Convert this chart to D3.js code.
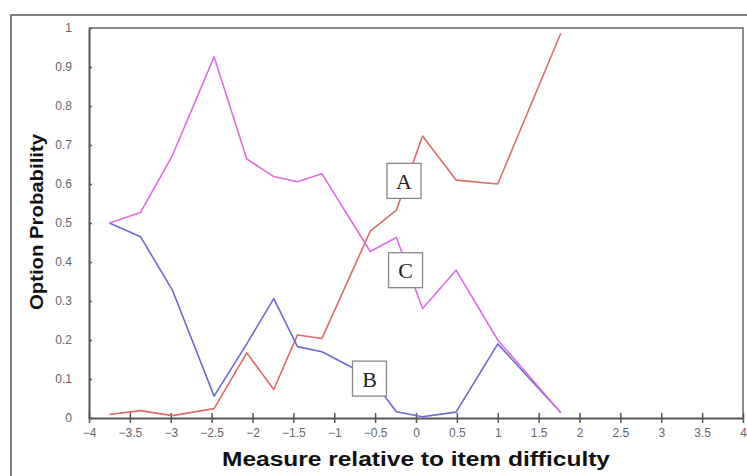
<!DOCTYPE html>
<html><head><meta charset="utf-8">
<script src="https://cdn.jsdelivr.net/npm/d3@7"></script>
<style>body{margin:0;background:#fff}svg{display:block}</style>
</head><body>
<svg id="chart" width="747" height="476"></svg>
<script>
const xValues = [-3.75, -3.37, -2.98, -2.47, -2.07, -1.74, -1.45, -1.15, -0.56, -0.24, 0.08, 0.49, 1.0, 1.77];
const seriesA = [0.009, 0.019, 0.006, 0.024, 0.167, 0.073, 0.213, 0.204, 0.479, 0.533, 0.723, 0.61, 0.6, 0.986];
const seriesB = [0.5, 0.465, 0.328, 0.056, 0.19, 0.306, 0.183, 0.17, 0.105, 0.016, 0.003, 0.015, 0.19, 0.014];
const seriesC = [0.5, 0.527, 0.673, 0.926, 0.664, 0.619, 0.606, 0.626, 0.427, 0.463, 0.281, 0.379, 0.2, 0.014];
const xTicks = [-4, -3.5, -3, -2.5, -2, -1.5, -1, -0.5, 0, 0.5, 1, 1.5, 2, 2.5, 3, 3.5, 4];
const yTicks = [0, 0.1, 0.2, 0.3, 0.4, 0.5, 0.6, 0.7, 0.8, 0.9, 1];
const labels = [
  {name: "A", x: -0.147, y: 0.608},
  {name: "C", x: -0.128, y: 0.379},
  {name: "B", x: -0.569, y: 0.101}
];
const series = [
  {name: "A", values: seriesA, color: "#e06a6a"},
  {name: "B", values: seriesB, color: "#6a6ad2"},
  {name: "C", values: seriesC, color: "#dc6ee0"}
];

const svg = d3.select("#chart");
const x = d3.scaleLinear().domain([-4, 4]).range([89, 743]);
const y = d3.scaleLinear().domain([0, 1]).range([418, 28]);

// outer frame
svg.append("path").attr("d", "M11,476 L11,15 L747,15")
  .attr("fill", "none").attr("stroke", "#555").attr("stroke-width", 1.5);

// plot frame top/right
svg.append("path").attr("d", `M${x(-4)},${y(1)} L${x(4)},${y(1)} L${x(4)},${y(0)}`)
  .attr("fill", "none").attr("stroke", "#8a8a8a").attr("stroke-width", 2);

// axes
const xAxis = d3.axisBottom(x).tickValues(xTicks).tickFormat(d => d3.format("")(d))
  .tickSizeInner(5).tickSizeOuter(0).tickPadding(5);
const gx = svg.append("g").attr("transform", `translate(0,${y(0)})`).call(xAxis);
const yAxis = d3.axisLeft(y).tickValues(yTicks).tickFormat(d => d3.format("")(d))
  .tickSizeInner(4).tickSizeOuter(0).tickPadding(13);
const gy = svg.append("g").attr("transform", `translate(${x(-4)},0)`).call(yAxis);

[gx, gy].forEach(g => {
  g.select(".domain").attr("stroke", "#555").attr("stroke-width", 2);
  g.selectAll(".tick line").attr("stroke", "#555").attr("stroke-width", 1.5);
  g.selectAll(".tick text").attr("fill", "#666").attr("font-family", "Liberation Sans, Arial, sans-serif")
    .attr("font-size", 12);
});
gx.selectAll(".tick line").attr("y1", -5);
gy.selectAll(".tick line").attr("x2", 3);

// lines
const line = d3.line().x((d, i) => x(xValues[i])).y(d => y(d));
series.forEach(s => {
  svg.append("path").datum(s.values).attr("d", line)
    .attr("fill", "none").attr("stroke", s.color).attr("stroke-width", 1.6)
    .attr("stroke-linejoin", "round");
});

// labels in boxes
labels.forEach(l => {
  const cx = x(l.x), cy = y(l.y);
  svg.append("rect").attr("x", cx - 17).attr("y", cy - 17.5).attr("width", 34).attr("height", 35)
    .attr("fill", "#fff").attr("stroke", "#888").attr("stroke-width", 1.3);
  svg.append("text").attr("x", cx).attr("y", cy + 8).attr("text-anchor", "middle")
    .attr("font-family", "Liberation Serif, Times New Roman, serif").attr("font-size", 22)
    .attr("fill", "#222").text(l.name);
});

// titles
svg.append("text").attr("x", 416).attr("y", 466).attr("text-anchor", "middle")
  .attr("font-family", "Liberation Sans, Arial, sans-serif").attr("font-weight", "bold")
  .attr("font-size", 21).attr("fill", "#111")
  .attr("textLength", 388).attr("lengthAdjust", "spacingAndGlyphs")
  .text("Measure relative to item difficulty");
svg.append("text").attr("transform", "translate(43,222) rotate(-90)").attr("text-anchor", "middle")
  .attr("font-family", "Liberation Sans, Arial, sans-serif").attr("font-weight", "bold")
  .attr("font-size", 19).attr("fill", "#111")
  .attr("textLength", 176).attr("lengthAdjust", "spacingAndGlyphs")
  .text("Option Probability");
</script>
</body></html>
